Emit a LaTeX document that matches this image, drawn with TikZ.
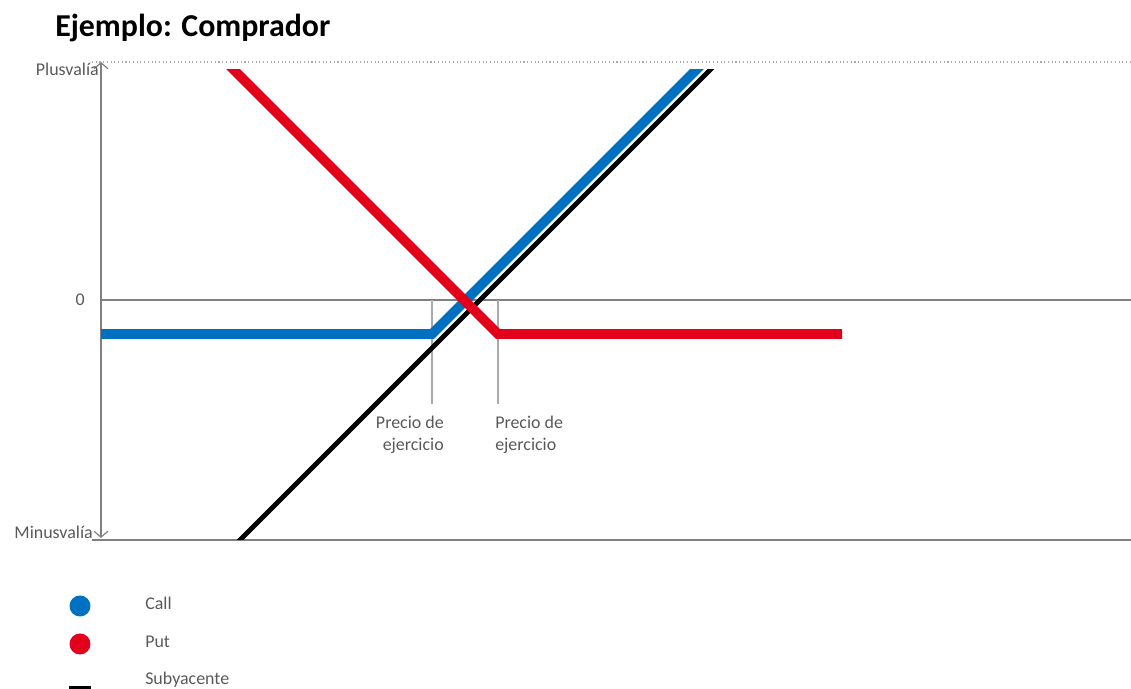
\documentclass[tikz,border=0pt]{standalone}
\usepackage{fontspec}
\setmainfont{Carlito}
\usetikzlibrary{arrows.meta}

\definecolor{callblue}{RGB}{0,112,192}
\definecolor{putred}{RGB}{226,0,26}
\definecolor{axisgray}{RGB}{128,128,128}
\definecolor{tickgray}{RGB}{170,170,170}
\definecolor{textgray}{RGB}{89,89,89}

\tikzset{
  lbl/.style={text=textgray, font=\fontsize{13.5}{16.5}\selectfont, inner sep=0pt},
  axisline/.style={draw=axisgray, line width=0.9pt},
  payoff/.style={line width=7.3pt},
}

\begin{document}
\begin{tikzpicture}[x=2.6458cm,y=2.6458cm]
\useasboundingbox (0,0) rectangle (11.31,6.89);

\node[anchor=base west, inner sep=0pt, font=\fontsize{24}{28}\selectfont\bfseries] (title) at (0.55,6.52) {Ejemplo: Comprador};

% axes
\coordinate (ytop) at (1.01,6.27);
\coordinate (ybot) at (1.01,1.51);
\draw[axisline, {Straight Barb[length=4.5pt,width=10.5pt]}-{Straight Barb[length=4.5pt,width=10.5pt]}] (ytop) -- (ybot);
\draw[draw=tickgray, line width=0.8pt, dotted] (0.92,6.27) -- (11.31,6.27);
\draw[axisline] (0.92,1.49) -- (11.31,1.49);
\draw[axisline] (1.01,3.89) -- (11.31,3.89);

\node[lbl, anchor=base east] (plus) at (0.99,6.13) {Plusvalía};
\node[lbl, anchor=base east] (minus) at (0.93,1.50) {Minusvalía};
\node[lbl, anchor=base east] (zero) at (0.85,3.83) {0};

% strike lines
\coordinate (k1) at (4.32,3.89);
\coordinate (k2) at (4.98,3.89);
\draw[draw=tickgray, line width=0.8pt] (k1) -- (4.32,2.85);
\draw[draw=tickgray, line width=0.8pt] (k2) -- (4.98,2.85);
\node[lbl, align=right, anchor=north east] (strike1) at (4.44,2.73) {Precio de\\ejercicio};
\node[lbl, align=left, anchor=north west] (strike2) at (4.95,2.73) {Precio de\\ejercicio};

% payoff lines
\begin{scope}
\clip (1.01,1.49) rectangle (11.31,6.19);
\draw[line width=3.7pt, black] (2.32,1.41) -- (7.20,6.29);
\draw[payoff, callblue] (1.01,3.55) -- (4.32,3.55) -- (7.06,6.29);
\draw[payoff, putred] (2.24,6.29) -- (4.98,3.55) -- (8.42,3.55);
\end{scope}

% legend
\fill[callblue] (0.80,0.83) circle (0.105);
\fill[putred] (0.80,0.45) circle (0.105);
\draw[line width=2.4pt, black] (0.69,0.01) -- (0.91,0.01);
\node[lbl, anchor=base west] (call) at (1.45,0.79) {Call};
\node[lbl, anchor=base west] (put) at (1.45,0.41) {Put};
\node[lbl, anchor=base west] (sub) at (1.45,0.04) {Subyacente};

\end{tikzpicture}
\end{document}
